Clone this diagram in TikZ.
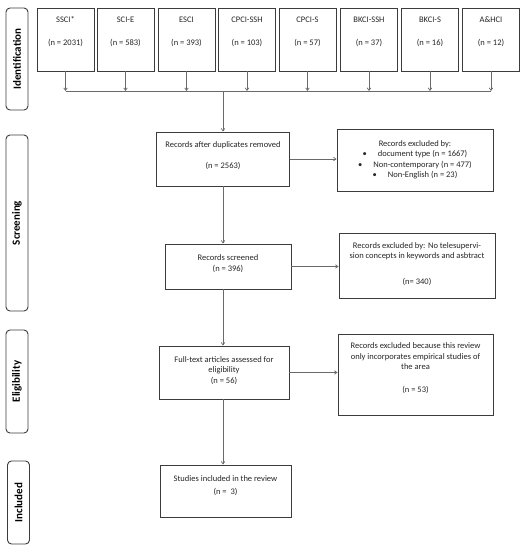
\documentclass[tikz,border=0pt]{standalone}
\usepackage{fontspec}
\setmainfont{Carlito}
\usetikzlibrary{arrows.meta}
\definecolor{boxc}{HTML}{3C3C3C}
\definecolor{linec}{HTML}{6A6A6A}
\begin{document}
\begin{tikzpicture}[x=1pt,y=-1pt,
  box/.style={draw=boxc, line width=0.9pt, inner sep=0pt},
  txt/.style={align=center, font=\fontsize{8.5}{10.5}\selectfont, text=black!85, inner sep=0pt},
  phase/.style={draw=boxc, line width=0.9pt, rounded corners=4pt, minimum width=22pt, inner sep=0pt},
  ptxt/.style={rotate=90, inner sep=0pt, font=\fontsize{11}{13}\selectfont\bfseries},
  conn/.style={draw=linec, line width=0.7pt},
  arr/.style={conn, -{Straight Barb[length=2.5pt,width=3.5pt]}}]
\useasboundingbox[fill=white] (0,0) rectangle (524,550);

% phase labels
\node[phase, minimum height=102pt] (pI) at (17,59) {};
\node[ptxt] (pIt) at (pI.center) {Identification};
\node[phase, minimum height=176pt] (pS) at (17,223) {};
\node[ptxt] (pSt) at (pS.center) {Screening};
\node[phase, minimum height=103pt] (pE) at (17,381.5) {};
\node[ptxt] (pEt) at (pE.center) {Eligibility};
\node[phase, minimum height=83pt] (pN) at (18.5,502.5) {};
\node[ptxt] (pNt) at (pN.center) {Included};

% collecting line
\coordinate (hl) at (0,91);
\coordinate (j) at (223,91);

% source boxes
\foreach \i/\x/\nm/\n in {1/65.5/SSCI*/2031, 2/125.5/SCI-E/583, 3/186.5/ESCI/393,
  4/247/CPCI-SSH/103, 5/307.5/CPCI-S/57, 6/369/BKCI-SSH/37, 7/430/BKCI-S/16, 8/491/A\&HCI/12} {
  \node[box, minimum width=57pt, minimum height=63pt] (s\i) at (\x,39.5) {};
  \node[txt] (st\i) at (\x,31.5) {\nm\\[12.5pt](n = \n)};
  \draw[arr] (s\i.south) -- (s\i.south |- hl);
}
\draw[conn] (s1.south |- hl) -- (s8.south |- hl);

% main column
\node[box, minimum width=133pt, minimum height=54pt] (dup) at (223,159) {};
\node[txt] (dupt) at (223,155.5) {Records after duplicates removed\\[10.5pt](n = 2563)};

\node[box, minimum width=156pt, minimum height=62pt] (ex1) at (415,160) {};
\node[txt] (ex1t) at (415,160) {Records excluded by:\\
  \textbullet\hspace{11pt}document type (n = 1667)\\
  \textbullet\hspace{11pt}Non-contemporary (n = 477)\\
  \textbullet\hspace{11pt}Non-English (n = 23)};

\node[box, minimum width=126pt, minimum height=45pt] (scr) at (228,266.5) {};
\node[txt] (scrt) at (228,263.5) {Records screened\\(n = 396)};

\node[box, minimum width=156pt, minimum height=65pt] (ex2) at (417,265.5) {};
\node[txt] (ex2t) at (417,264) {Records excluded by: No telesupervi-\\sion concepts in keywords and asbtract\\[15pt](n= 340)};

\node[box, minimum width=130pt, minimum height=53pt] (ft) at (224,372.5) {};
\node[txt] (ftt) at (224,370.5) {Full-text articles assessed for\\eligibility\\(n = 56)};

\node[box, minimum width=155pt, minimum height=81pt] (ex3) at (415.5,374.5) {};
\node[txt] (ex3t) at (415.5,368.5) {Records excluded because this review\\only incorporates empirical studies of\\the area\\[12.5pt](n = 53)};

\node[box, minimum width=131pt, minimum height=52pt] (stu) at (225.5,491) {};
\node[txt] (stut) at (225.5,485.5) {Studies included in the review\\[2pt](n =\ \ 3)};

% connectors
\draw[arr] (j) -- (j |- dup.north);
\draw[arr] (dup.south) -- (dup.south |- scr.north);
\draw[arr] (dup.south |- scr.south) -- (dup.south |- ft.north);
\draw[arr] (dup.south |- ft.south) -- (dup.south |- stu.north);

\draw[arr] (dup.east) -- (dup.east -| ex1.west);
\draw[arr] (scr.east) -- (scr.east -| ex2.west);
\draw[arr] (ft.east) -- (ft.east -| ex3.west);
\end{tikzpicture}
\end{document}
